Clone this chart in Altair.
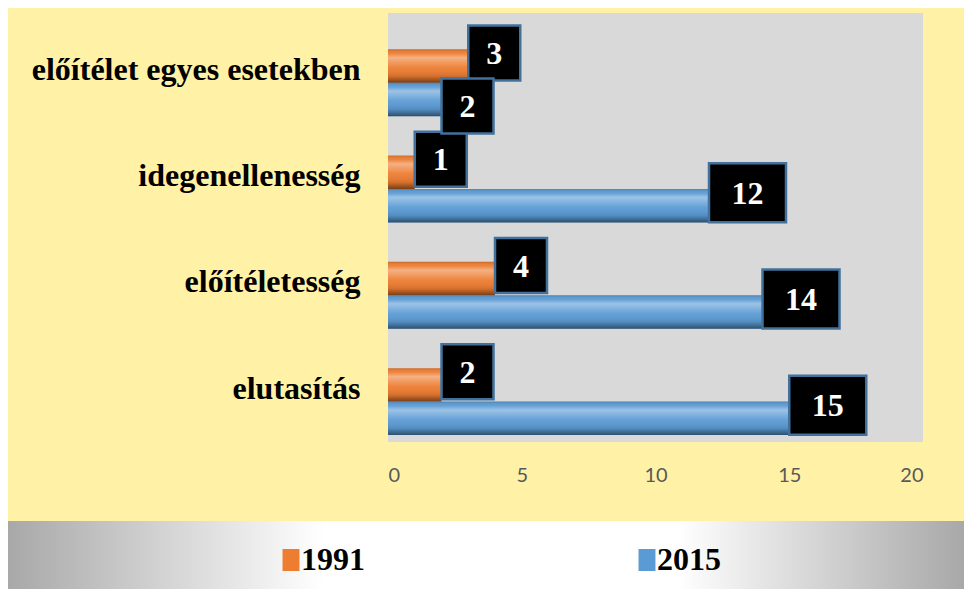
import altair as alt
import pandas as pd

categories = ["előítélet egyes esetekben", "idegenellenesség", "előítéletesség", "elutasítás"]
series = ["1991", "2015"]
values_1991 = [3, 1, 4, 2]
values_2015 = [2, 12, 14, 15]
x_ticks = [0, 5, 10, 15, 20]
colors = ["#ED7D31", "#5B9BD5"]

rows = []
for c, v in zip(categories, values_1991):
    rows.append({"category": c, "year": "1991", "value": v})
for c, v in zip(categories, values_2015):
    rows.append({"category": c, "year": "2015", "value": v})
df = pd.DataFrame(rows)

W, H = 535, 429
TOTAL_W, TOTAL_H = 956, 581
PAD_L, PAD_T = 380, 5

y_enc = alt.Y(
    "category:N", sort=categories,
    scale=alt.Scale(paddingInner=0.37, paddingOuter=0.203, align=0.84),
    axis=alt.Axis(title=None, domain=False, ticks=False, labelFont="Liberation Serif",
                  labelFontWeight="bold", labelFontSize=32, labelColor="black",
                  labelPadding=28, labelOffset=-13, labelLimit=400),
)
yoff = alt.YOffset("year:N", sort=series, scale=alt.Scale(paddingInner=0, paddingOuter=0))
x_enc = alt.X(
    "value:Q", scale=alt.Scale(domain=[0, 20], nice=False),
    axis=alt.Axis(title=None, values=x_ticks, grid=False, domain=False, ticks=False,
                  labelFont="Lato", labelFontSize=20, labelColor="#595959", labelPadding=23),
)

band = alt.Chart(pd.DataFrame({"k": [0]})).mark_rect(
    color=alt.LinearGradient(
        gradient="linear", x1=0, x2=1, y1=0, y2=0,
        stops=[alt.GradientStop(offset=0, color="#A8A8A8"),
               alt.GradientStop(offset=0.33, color="#FFFFFF"),
               alt.GradientStop(offset=0.70, color="#FFFFFF"),
               alt.GradientStop(offset=1, color="#A8A8A8")],
    )
).encode(x=alt.value(-PAD_L), x2=alt.value(TOTAL_W - PAD_L),
         y=alt.value(508), y2=alt.value(TOTAL_H - PAD_T))

bars = alt.Chart(df).mark_bar().encode(
    x=x_enc, y=y_enc, yOffset=yoff,
    color=alt.Color(
        "year:N", sort=series, scale=alt.Scale(domain=series, range=colors),
        legend=alt.Legend(
            title=None, orient="none", legendX=-119, legendY=531, direction="horizontal",
            symbolType="M-0.225,-1L1.315,-1L1.315,1L-0.225,1Z", symbolSize=484,
            symbolStrokeWidth=0, symbolOpacity=1, labelFont="Liberation Serif",
            labelFontWeight="bold", labelFontSize=32, labelColor="black",
            columnPadding=260, labelOffset=0,
        ),
    ),
)

shade = alt.Chart(df).mark_bar(
    color=alt.LinearGradient(
        gradient="linear", x1=0, x2=0, y1=0, y2=1,
        stops=[alt.GradientStop(offset=0, color="rgba(0,0,0,0.15)"),
               alt.GradientStop(offset=0.12, color="rgba(255,255,255,0.05)"),
               alt.GradientStop(offset=0.25, color="rgba(255,255,255,0.4)"),
               alt.GradientStop(offset=0.55, color="rgba(255,255,255,0.05)"),
               alt.GradientStop(offset=0.8, color="rgba(0,0,0,0.1)"),
               alt.GradientStop(offset=1, color="rgba(0,0,0,0.5)")],
    )
).encode(x=x_enc, y=y_enc, yOffset=yoff)

# label boxes: width/height per digit count; a 2015 label is nudged down when it
# would collide with the 1991 label of the same category
BOX = {0: (52, 55), 1: (77, 59)}
NORMAL_DY, BUMP_DY = -13, 6.5

base = alt.Chart(df).transform_joinaggregate(
    lo="min(value)", hi="max(value)", groupby=["category"]
).transform_calculate(
    big="datum.value >= 10 ? 1 : 0",
    bump="datum.year == '2015' && (datum.hi - datum.lo) < 2.5 ? 1 : 0",
)

box_layers, text_layers = [], []
for big in (0, 1):
    w, h = BOX[big]
    for bump in (0, 1):
        dy = BUMP_DY if bump else NORMAL_DY
        path = f"M0,{dy - h / 2}L{w},{dy - h / 2}L{w},{dy + h / 2}L0,{dy + h / 2}Z"
        test = f"datum.big == {big} && datum.bump == {bump}"
        box_layers.append(base.transform_filter(test).mark_point(
            shape=path, size=4, filled=True, fill="black", stroke="#41719C",
            strokeWidth=2.5, opacity=1,
        ).encode(x=x_enc, y=y_enc, yOffset=yoff))
        text_layers.append(base.transform_filter(test).mark_text(
            font="Liberation Serif", fontWeight="bold", fontSize=32, color="white",
            dx=w / 2, dy=dy + 1, align="center", baseline="middle",
        ).encode(x=x_enc, y=y_enc, yOffset=yoff, text="value:Q"))

chart = alt.layer(
    band, bars, shade, *box_layers, *text_layers,
).properties(
    width=W, height=H,
    autosize=alt.AutoSizeParams(type="none"),
    padding={"left": PAD_L, "top": PAD_T, "right": TOTAL_W - PAD_L - W,
             "bottom": TOTAL_H - PAD_T - H},
    background="#FFF2A6",
).configure_view(fill="#D9D9D9", strokeWidth=0)

chart.save("out.html", embed_options={"renderer": "svg", "actions": False})
